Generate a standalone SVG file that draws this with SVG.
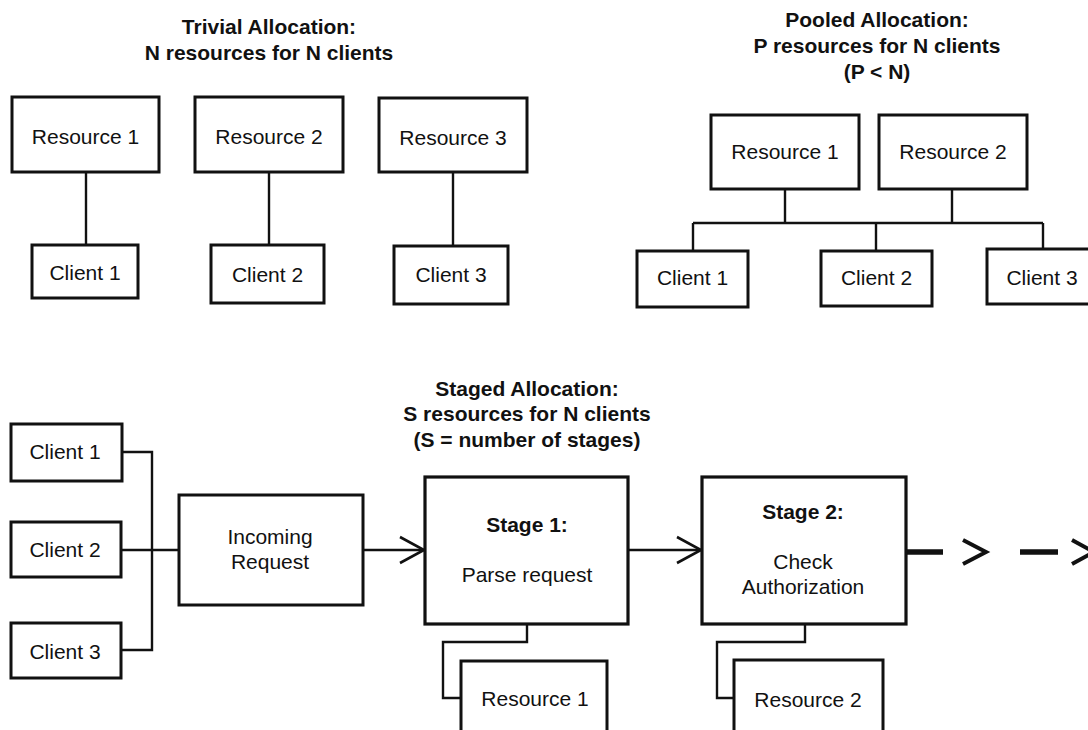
<svg xmlns="http://www.w3.org/2000/svg" width="1088" height="730" viewBox="0 0 1088 730">
<style>
.box{fill:#fff;stroke:#111;stroke-width:3}
.sbox{fill:#fff;stroke:#111;stroke-width:3.2}
.t{font-family:"Liberation Sans",Arial,sans-serif;font-size:21px;fill:#111;text-anchor:middle}
.b{font-weight:bold}
.ln{fill:none;stroke:#111;stroke-width:2.4}
.dash{fill:none;stroke:#111;stroke-width:5.5}
.chev{fill:none;stroke:#111;stroke-width:4}
</style>
<defs>
<marker id="arr" markerUnits="userSpaceOnUse" viewBox="0 0 30 30" refX="27" refY="15" markerWidth="30" markerHeight="30" orient="auto">
<polyline points="3,2 27,15 3,28" fill="none" stroke="#111" stroke-width="2.6"/>
</marker>
</defs>
<rect width="1088" height="730" fill="#fff"/>

<g id="titles">
<text class="t b" x="269" y="34">Trivial Allocation:</text>
<text class="t b" x="269" y="60">N resources for N clients</text>
<text class="t b" x="877" y="27">Pooled Allocation:</text>
<text class="t b" x="877" y="53">P resources for N clients</text>
<text class="t b" x="877" y="79">(P &lt; N)</text>
<text class="t b" x="527" y="396">Staged Allocation:</text>
<text class="t b" x="527" y="421">S resources for N clients</text>
<text class="t b" x="527" y="447">(S = number of stages)</text>
</g>

<g id="connectors">
<line class="ln" x1="86" y1="172" x2="86" y2="245"/>
<line class="ln" x1="269" y1="172" x2="269" y2="245"/>
<line class="ln" x1="453" y1="172" x2="453" y2="246"/>
<line class="ln" x1="785" y1="189" x2="785" y2="223"/>
<line class="ln" x1="952" y1="189" x2="952" y2="223"/>
<line class="ln" x1="693" y1="223" x2="1043" y2="223"/>
<line class="ln" x1="693" y1="223" x2="693" y2="251"/>
<line class="ln" x1="876" y1="223" x2="876" y2="251"/>
<line class="ln" x1="1043" y1="223" x2="1043" y2="249"/>
<polyline class="ln" points="122,452 152,452 152,650 121,650"/>
<line class="ln" x1="121" y1="550" x2="179" y2="550"/>
<line class="ln" x1="363" y1="550" x2="424" y2="550" marker-end="url(#arr)"/>
<line class="ln" x1="628" y1="550" x2="701" y2="550" marker-end="url(#arr)"/>
<polyline class="ln" points="527,624 527,642 443,642 443,698 461,698"/>
<polyline class="ln" points="805,624 805,642 717,642 717,698 734,698"/>
<line class="dash" x1="907" y1="552" x2="943" y2="552"/>
<polyline class="chev" points="963,540 986,552 963,564"/>
<line class="dash" x1="1020" y1="552" x2="1058" y2="552"/>
<polyline class="chev" points="1072,540 1094,552 1072,564"/>
</g>

<g id="trivial-resource-1"><rect class="box" x="12" y="97" width="147" height="75"/><text class="t" x="85.5" y="144">Resource 1</text></g>
<g id="trivial-resource-2"><rect class="box" x="195" y="97" width="148" height="75"/><text class="t" x="269" y="144">Resource 2</text></g>
<g id="trivial-resource-3"><rect class="box" x="379" y="98" width="148" height="74"/><text class="t" x="453" y="145">Resource 3</text></g>
<g id="trivial-client-1"><rect class="box" x="32" y="245" width="106" height="53"/><text class="t" x="85" y="280">Client 1</text></g>
<g id="trivial-client-2"><rect class="box" x="211" y="245" width="113" height="58"/><text class="t" x="267.5" y="282">Client 2</text></g>
<g id="trivial-client-3"><rect class="box" x="394" y="246" width="114" height="58"/><text class="t" x="451" y="282">Client 3</text></g>

<g id="pooled-resource-1"><rect class="box" x="711" y="115" width="148" height="74"/><text class="t" x="785" y="159">Resource 1</text></g>
<g id="pooled-resource-2"><rect class="box" x="879" y="115" width="148" height="74"/><text class="t" x="953" y="159">Resource 2</text></g>
<g id="pooled-client-1"><rect class="box" x="637" y="251" width="111" height="56"/><text class="t" x="692.5" y="285">Client 1</text></g>
<g id="pooled-client-2"><rect class="box" x="821" y="251" width="111" height="55"/><text class="t" x="876.5" y="285">Client 2</text></g>
<g id="pooled-client-3"><rect class="box" x="987" y="249" width="110" height="55"/><text class="t" x="1042" y="285">Client 3</text></g>

<g id="staged-client-1"><rect class="box" x="11" y="424" width="111" height="57"/><text class="t" x="65" y="459">Client 1</text></g>
<g id="staged-client-2"><rect class="box" x="11" y="522" width="110" height="55"/><text class="t" x="65" y="557">Client 2</text></g>
<g id="staged-client-3"><rect class="box" x="11" y="623" width="110" height="55"/><text class="t" x="65" y="659">Client 3</text></g>
<g id="incoming-request"><rect class="box" x="179" y="495" width="184" height="110"/><text class="t" x="270" y="544">Incoming</text><text class="t" x="270" y="569">Request</text></g>
<g id="stage-1"><rect class="sbox" x="425" y="477" width="203" height="147"/><text class="t b" x="527" y="532">Stage 1:</text><text class="t" x="527" y="582">Parse request</text></g>
<g id="stage-2"><rect class="sbox" x="702" y="477" width="204" height="147"/><text class="t b" x="803" y="519">Stage 2:</text><text class="t" x="803" y="569">Check</text><text class="t" x="803" y="594">Authorization</text></g>
<g id="staged-resource-1"><rect class="box" x="461" y="661" width="146" height="90"/><text class="t" x="535" y="706">Resource 1</text></g>
<g id="staged-resource-2"><rect class="box" x="734" y="660" width="149" height="90"/><text class="t" x="808" y="707">Resource 2</text></g>
</svg>
